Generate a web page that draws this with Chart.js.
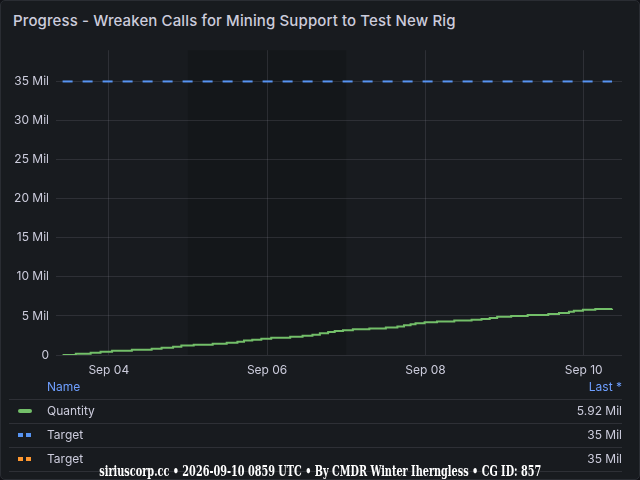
<!DOCTYPE html>
<html>
<head>
<meta charset="utf-8">
<script src="https://cdn.jsdelivr.net/npm/chart.js@4"></script>
<style>
  html, body { margin: 0; padding: 0; background: #111217; }
  #panel {
    position: absolute; left: 0; top: 0; width: 638px; height: 478px;
    background: #181b1f; border: 1px solid #2a2d33; border-radius: 5px;
    font-family: Inter, "Noto Sans", sans-serif; color: #ccccdc; overflow: hidden;
  }
  #title { position: absolute; left: 12px; top: 10px; font-size: 15px; font-weight: 500; letter-spacing: 0.12px; white-space: nowrap; }
  #chartBox { position: absolute; left: -1px; top: 35px; width: 640px; height: 345px; }
  .row { position: absolute; left: 8px; width: 613px; height: 24px; font-size: 12px; line-height: 24px; }
  .row.line { border-bottom: 1px solid rgba(204, 204, 220, 0.12); }
  .row .name { position: absolute; left: 38px; }
  .row .val { position: absolute; right: 0; }
  .hdr { color: #6e9fff; }
  .icon { position: absolute; left: 9px; top: 10px; width: 14px; height: 4px; }
  .solid { border-radius: 2px; }
  #footer {
    position: absolute; left: 0; width: 638px; top: 459px; text-align: center;
  }
  #footer span {
    display: inline-block; transform-origin: center center;
    font-family: "DejaVu Serif", serif; font-weight: bold;
    font-size: 14px; color: #ffffff; white-space: nowrap;
  }
</style>
</head>
<body>
<div id="panel">
  <div id="title">Progress - Wreaken Calls for Mining Support to Test New Rig</div>
  <div id="chartBox"><canvas id="progressChart"></canvas></div>
  <div id="legend"></div>
  <div id="footer"><span id="footerText">siriuscorp.cc • 2026-09-10 0859 UTC • By CMDR Winter Iherngless • CG ID: 857</span></div>
</div>
<script>
// Quantity samples (UTC)
const times = [
  '2026-09-03 10:00', '2026-09-03 14:00', '2026-09-03 18:30', '2026-09-03 21:30',
  '2026-09-04 01:00', '2026-09-04 07:00', '2026-09-04 13:00', '2026-09-04 16:00',
  '2026-09-04 19:30', '2026-09-04 22:00', '2026-09-05 01:45', '2026-09-05 07:30',
  '2026-09-05 11:45', '2026-09-05 15:00', '2026-09-05 17:00', '2026-09-05 19:30',
  '2026-09-05 22:15', '2026-09-06 01:15', '2026-09-06 07:00', '2026-09-06 10:45',
  '2026-09-06 13:45', '2026-09-06 16:00', '2026-09-06 18:30', '2026-09-06 20:30',
  '2026-09-06 23:00', '2026-09-07 02:00', '2026-09-07 07:00', '2026-09-07 12:00',
  '2026-09-07 15:30', '2026-09-07 17:30', '2026-09-07 19:30', '2026-09-07 21:00',
  '2026-09-07 23:45', '2026-09-08 03:30', '2026-09-08 08:45', '2026-09-08 14:00',
  '2026-09-08 17:00', '2026-09-08 19:30', '2026-09-08 21:45', '2026-09-09 02:00',
  '2026-09-09 07:00', '2026-09-09 13:15', '2026-09-09 16:30', '2026-09-09 19:30',
  '2026-09-09 21:00', '2026-09-09 23:45', '2026-09-10 03:30', '2026-09-10 08:35'
];
const quantity = [
  0, 150000, 280000, 420000,
  530000, 660000, 790000, 930000,
  1060000, 1210000, 1320000, 1440000,
  1570000, 1700000, 1850000, 1950000,
  2080000, 2200000, 2340000, 2470000,
  2600000, 2770000, 2940000, 3070000,
  3170000, 3280000, 3380000, 3510000,
  3640000, 3810000, 3920000, 4050000,
  4180000, 4280000, 4430000, 4520000,
  4620000, 4750000, 4890000, 4980000,
  5110000, 5240000, 5390000, 5520000,
  5650000, 5780000, 5880000, 5920000
];
const targetTimes = ['2026-09-03 10:00', '2026-09-10 08:35'];
const targetValues = [35000000, 35000000];

const xRange = ['2026-09-03 08:00', '2026-09-10 11:36'];
const xTicks = ['2026-09-04 00:00', '2026-09-06 00:00', '2026-09-08 00:00', '2026-09-10 00:00'];
const yTicks = [0, 5000000, 10000000, 15000000, 20000000, 25000000, 30000000, 35000000];
const yMax = 39000000;
const weekendRange = ['2026-09-05 00:00', '2026-09-07 00:00'];

const legendRows = [
  { name: 'Quantity', last: '5.92 Mil', color: '#73bf69', dashed: false },
  { name: 'Target', last: '35 Mil', color: '#5794f2', dashed: true },
  { name: 'Target', last: '35 Mil', color: '#ff9830', dashed: true }
];

const months = ['Jan', 'Feb', 'Mar', 'Apr', 'May', 'Jun', 'Jul', 'Aug', 'Sep', 'Oct', 'Nov', 'Dec'];
function toMs(s) { return Date.parse(s.replace(' ', 'T') + ':00Z'); }
function dayLabel(ms) {
  const d = new Date(ms);
  return months[d.getUTCMonth()] + ' ' + String(d.getUTCDate()).padStart(2, '0');
}

// weekend shading behind the grid
const weekendBand = {
  id: 'weekendBand',
  beforeDraw(chart) {
    const { ctx, chartArea, scales } = chart;
    const x0 = scales.x.getPixelForValue(toMs(weekendRange[0]));
    const x1 = scales.x.getPixelForValue(toMs(weekendRange[1]));
    ctx.save();
    ctx.fillStyle = 'rgba(0, 0, 0, 0.14)';
    ctx.fillRect(x0, chartArea.top, x1 - x0, chartArea.bottom - chartArea.top);
    ctx.restore();
  }
};

const tickFont = { family: 'Inter', size: 12 };
const gridColor = 'rgba(204, 204, 220, 0.12)';

new Chart(document.getElementById('progressChart').getContext('2d'), {
  type: 'line',
  data: {
    datasets: [
      {
        // second target sits exactly under the blue one, so it is not stroked
        label: 'Target',
        data: targetTimes.map((t, i) => ({ x: toMs(t), y: targetValues[i] })),
        borderColor: '#ff9830', borderWidth: 0,
        pointRadius: 0, order: 3
      },
      {
        label: 'Target',
        data: targetTimes.map((t, i) => ({ x: toMs(t), y: targetValues[i] })),
        borderColor: '#5794f2', borderWidth: 2, borderDash: [10, 10],
        pointRadius: 0, order: 2
      },
      {
        label: 'Quantity',
        data: times.map((t, i) => ({ x: toMs(t), y: quantity[i] })),
        borderColor: '#73bf69', borderWidth: 2, stepped: true,
        pointRadius: 0, order: 1
      }
    ]
  },
  options: {
    responsive: true,
    maintainAspectRatio: false,
    animation: false,
    layout: { padding: { left: 0, right: 18, top: 4, bottom: 0 } },
    plugins: { legend: { display: false }, tooltip: { enabled: false } },
    scales: {
      x: {
        type: 'linear',
        min: toMs(xRange[0]),
        max: toMs(xRange[1]),
        afterBuildTicks(scale) { scale.ticks = xTicks.map(s => ({ value: toMs(s) })); },
        afterFit(scale) { scale.height = 26; },
        ticks: { color: '#ccccdc', font: tickFont, padding: 8, maxRotation: 0, callback: v => dayLabel(v) },
        grid: { color: gridColor, drawTicks: false },
        border: { display: false }
      },
      y: {
        min: 0,
        max: yMax,
        afterBuildTicks(scale) { scale.ticks = yTicks.map(v => ({ value: v })); },
        afterFit(scale) { scale.width = 56; },
        ticks: { color: '#ccccdc', font: tickFont, padding: 7, callback: v => v === 0 ? '0' : (v / 1000000) + ' Mil' },
        grid: { color: gridColor, drawTicks: false },
        border: { display: false }
      }
    }
  },
  plugins: [weekendBand]
});

// table legend under the plot
const legend = document.getElementById('legend');
let html = '<div class="row line hdr" style="top:374px"><span class="name">Name</span><span class="val">Last *</span></div>';
legendRows.forEach((r, i) => {
  let icon;
  if (r.dashed) {
    icon = '<span class="icon" style="background:linear-gradient(to right,' + r.color + ' 0 5px,transparent 5px 8px,' + r.color + ' 8px 13px,transparent 13px)"></span>';
  } else {
    icon = '<span class="icon solid" style="background:' + r.color + '"></span>';
  }
  html += '<div class="row line" style="top:' + (398 + i * 24) + 'px">' + icon +
    '<span class="name">' + r.name + '</span><span class="val">' + r.last + '</span></div>';
});
legend.innerHTML = html;

// squeeze the footer to the width it has in the picture
const foot = document.getElementById('footerText');
const fw = foot.getBoundingClientRect().width;
foot.style.transform = 'scaleX(' + (442 / fw) + ')';
</script>
</body>
</html>
